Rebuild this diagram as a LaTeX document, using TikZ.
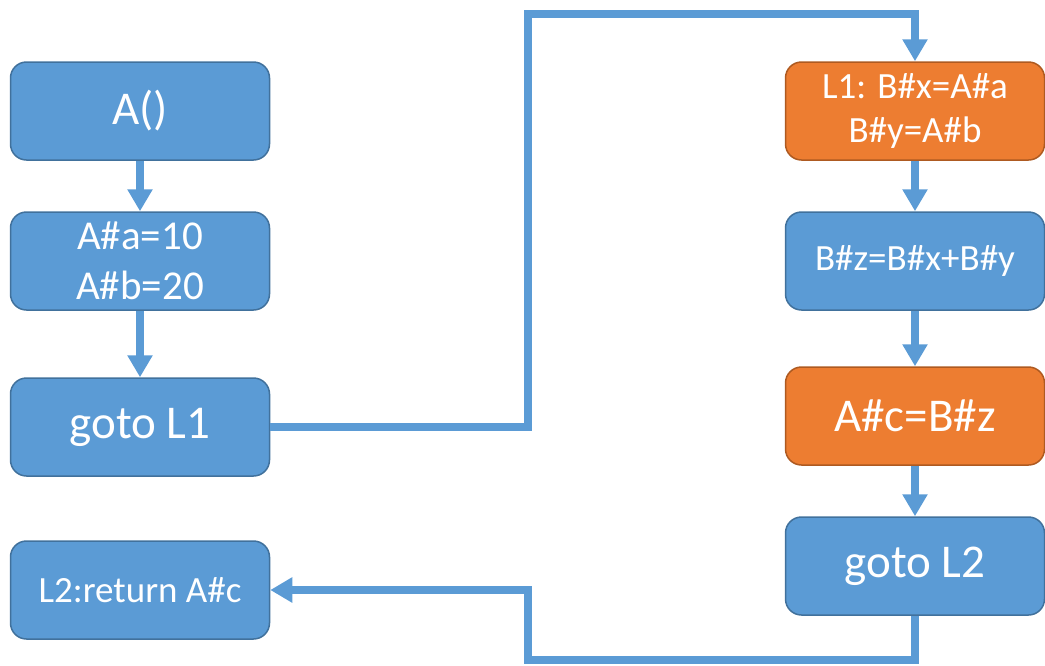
\documentclass[tikz,border=0pt]{standalone}
\usepackage{fontspec}
\setmainfont{Carlito}
\usetikzlibrary{arrows.meta}
\definecolor{boxblue}{HTML}{5B9BD5}
\definecolor{lineblue}{HTML}{41719C}
\definecolor{boxorange}{HTML}{ED7D31}
\definecolor{lineorange}{HTML}{AE5A21}

\begin{document}
\begin{tikzpicture}[line cap=butt,line join=miter,x=1pt,y=-1pt,
		block/.style={draw=lineblue,fill=boxblue,line width=1.5pt,rounded corners=16pt,
			minimum width=259pt,minimum height=98pt,text=white,align=center,inner sep=0pt},
		hot/.style={block,draw=lineorange,fill=boxorange},
		big/.style={font=\fontsize{47}{54}\selectfont},
		mid/.style={font=\fontsize{41}{50}\selectfont},
		small/.style={font=\fontsize{37}{44}\selectfont},
		flow/.style={draw=boxblue,line width=7.5pt,-{Triangle[length=22pt,width=24pt]}}]
		\useasboundingbox (0,0) rectangle (1045,665);
		% left column
		\node[block,big] (start) at (140,111) {A()};
		\node[block,mid] (init) at (140,261) {A\#a=10\\A\#b=20};
		\node[block,big] (jmpa) at (140,427) {goto L1};
		\node[block,small] (ret) at (140,590) {L2:return A\#c};
		% right column
		\node[hot,small] (copy) at (915,111) {L1: B\#x=A\#a\\B\#y=A\#b};
		\node[block,small] (sum) at (915,261) {B\#z=B\#x+B\#y};
		\node[hot,big] (back) at (915,416) {A\#c=B\#z};
		\node[block,big] (jmpb) at (915,566) {goto L2};
		\coordinate (up) at (528,14);
		\coordinate (down) at (528,660);
		\draw[flow] (start) -- (init);
		\draw[flow] (init) -- (jmpa);
		\draw[flow] (copy) -- (sum);
		\draw[flow] (sum) -- (back);
		\draw[flow] (back) -- (jmpb);
		\draw[flow] (jmpa.east) -| (up) -| (copy.north);
		\draw[flow] (jmpb.south) |- (down) |- (ret.east);
	\end{tikzpicture}
\end{document}
